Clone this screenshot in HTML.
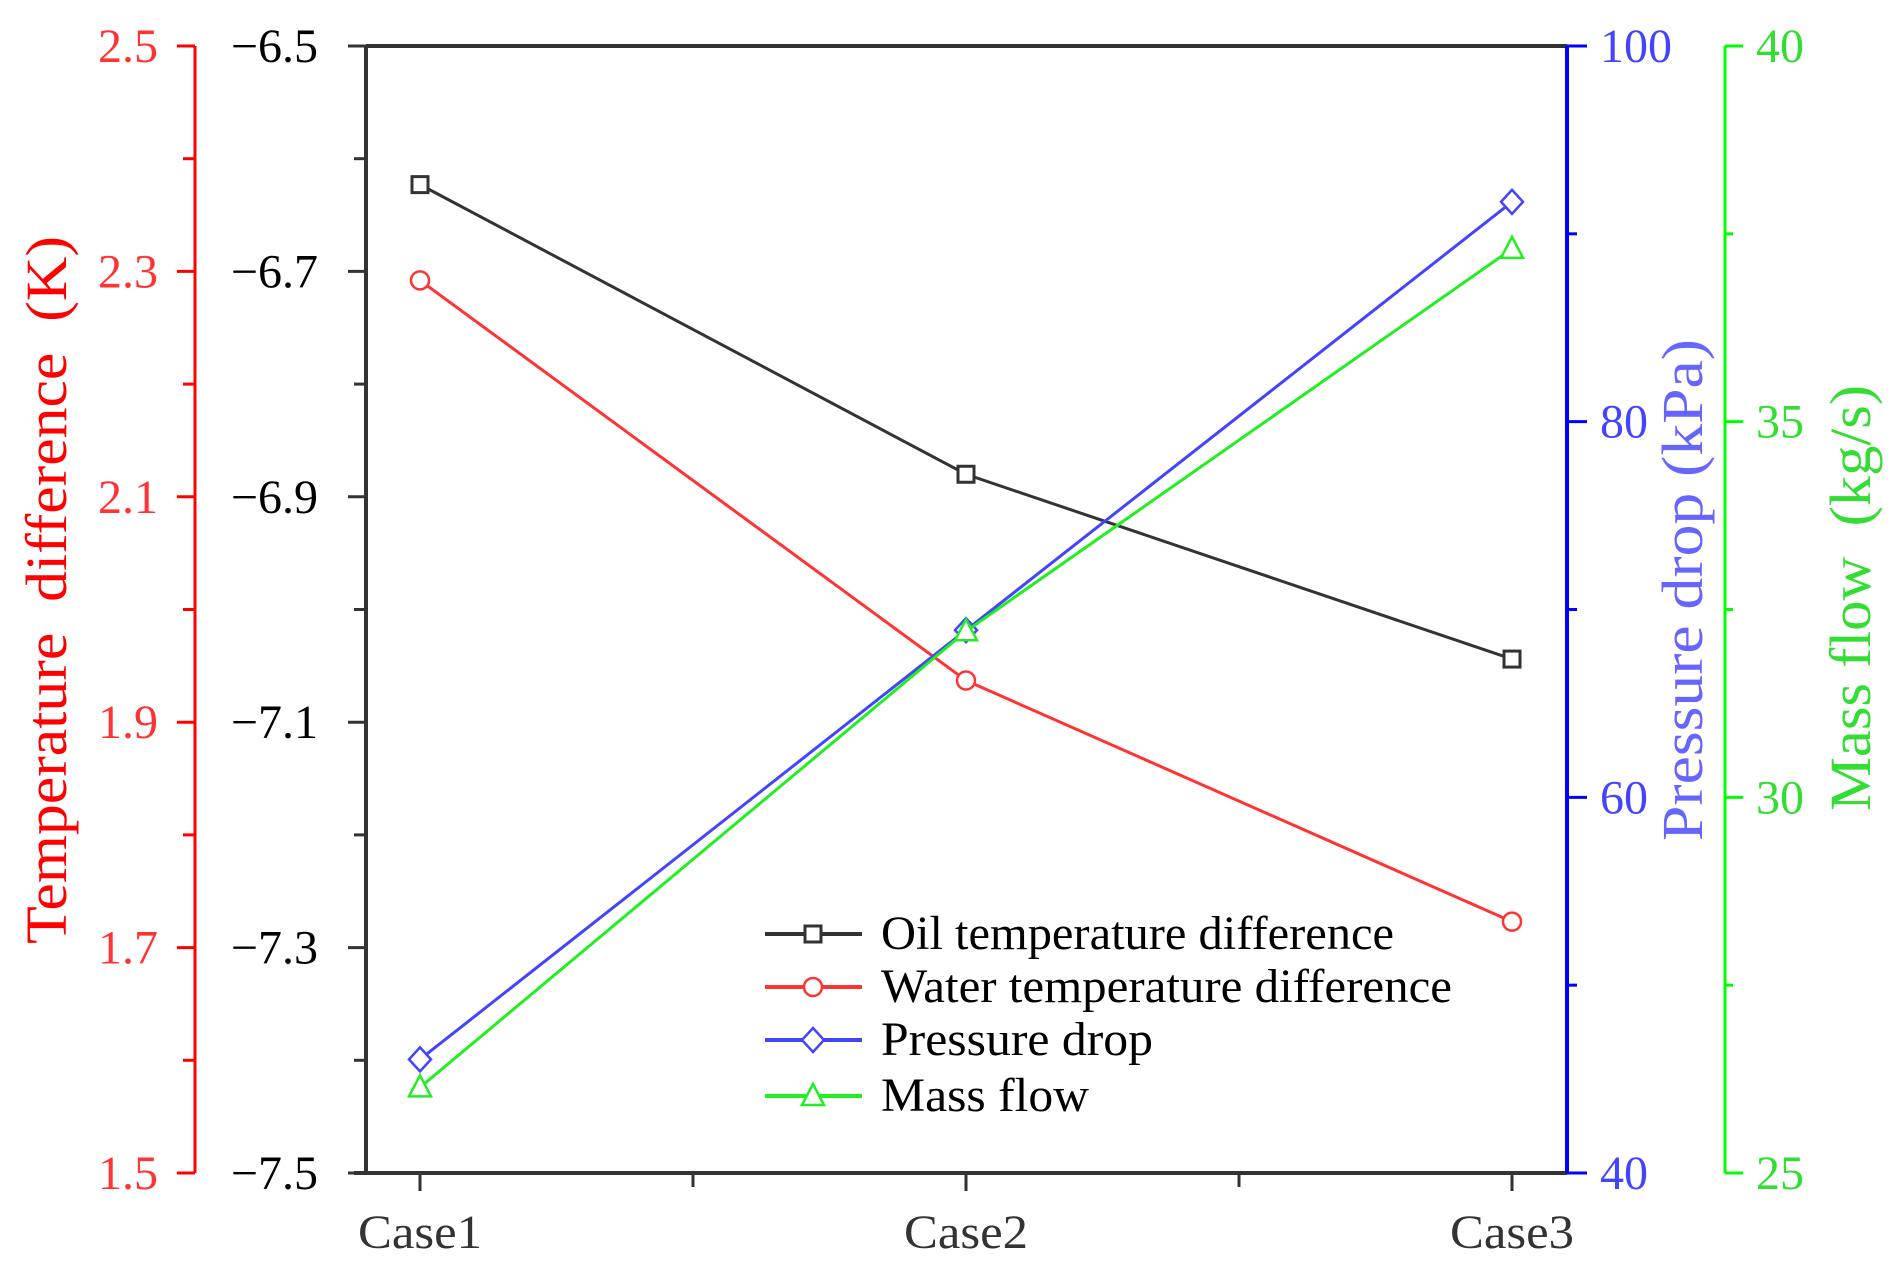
<!DOCTYPE html>
<html><head><meta charset="utf-8"><style>
html,body{margin:0;padding:0;background:#fff;}
svg{display:block;font-family:"Liberation Serif",serif;}
</style></head><body>
<svg id="chart" width="1897" height="1266" viewBox="0 0 1897 1266" xmlns="http://www.w3.org/2000/svg">
<g id="axes"></g>
<g id="series"></g>
<g id="legend"></g>
</svg>
<script>
const categories = ["Case1","Case2","Case3"];
const oilTemp = [-6.623, -6.880, -7.044];
const waterTemp = [2.292, 1.937, 1.723];
const pressureDrop = [46.05, 68.9, 91.7];
const massFlow = [26.14, 32.21, 37.30];
const blackTicks = ["\u22126.5","\u22126.7","\u22126.9","\u22127.1","\u22127.3","\u22127.5"];
const redTicks = ["2.5","2.3","2.1","1.9","1.7","1.5"];
const blueTicks = ["100","80","60","40"];
const greenTicks = ["40","35","30","25"];

const NS="http://www.w3.org/2000/svg";
const L=366, R=1567, T=46, B=1173;
function mk(tag, parent, attrs){const e=document.createElementNS(NS,tag);for(const k in attrs)e.setAttribute(k,attrs[k]);parent.appendChild(e);return e;}
function yScale(min,max){return v=>B-(v-min)/(max-min)*(B-T);}
const xS = i => 420 + i*546;
const yOil=yScale(-7.5,-6.5), yWater=yScale(1.5,2.5), yP=yScale(40,100), yM=yScale(25,40);
const ax=document.getElementById('axes'), se=document.getElementById('series'), lg=document.getElementById('legend');

let e;
e=mk('line',ax,{x1:L,y1:T,x2:R,y2:T,stroke:'#333','stroke-width':4});

e=mk('line',ax,{x1:L,y1:T,x2:L,y2:B,stroke:'#333','stroke-width':4});

e=mk('line',ax,{x1:L-12,y1:B,x2:R,y2:B,stroke:'#333','stroke-width':4});

for(let i=0;i<categories.length;i++){
  mk('line',ax,{x1:xS(i),y1:B,x2:xS(i),y2:B+18,stroke:'#333','stroke-width':3});
  if(i<categories.length-1) mk('line',ax,{x1:xS(i+0.5),y1:B,x2:xS(i+0.5),y2:B+14,stroke:'#333','stroke-width':3});
  e=mk('text',ax,{x:xS(i),y:1248,'text-anchor':'middle','font-size':48,fill:'#333',textLength:124,lengthAdjust:'spacingAndGlyphs'});
  e.textContent=categories[i];
  
}
for(let i=0;i<blackTicks.length;i++){
  const v=-6.5-0.2*i, y=yOil(v);
  mk('line',ax,{x1:L-18,y1:y,x2:L,y2:y,stroke:'#333','stroke-width':3});
  if(i<blackTicks.length-1){const ym=yOil(v-0.1);mk('line',ax,{x1:L-12,y1:ym,x2:L,y2:ym,stroke:'#333','stroke-width':3});}
  e=mk('text',ax,{x:318,y:y+16,'text-anchor':'end','font-size':48,fill:'#000'});
  e.textContent=blackTicks[i];
  
}
const RX=195;
e=mk('line',ax,{x1:RX,y1:T,x2:RX,y2:B,stroke:'#f00','stroke-width':3});

for(let i=0;i<redTicks.length;i++){
  const v=2.5-0.2*i, y=yWater(v);
  mk('line',ax,{x1:RX-18,y1:y,x2:RX,y2:y,stroke:'#f00','stroke-width':3});
  if(i<redTicks.length-1){const ym=yWater(v-0.1);mk('line',ax,{x1:RX-12,y1:ym,x2:RX,y2:ym,stroke:'#f00','stroke-width':3});}
  e=mk('text',ax,{x:158,y:y+16,'text-anchor':'end','font-size':48,fill:'#f33'});
  e.textContent=redTicks[i];
  
}
e=mk('text',ax,{x:0,y:0,transform:'translate(66,590) rotate(-90)','text-anchor':'middle','font-size':58,fill:'#f00',textLength:708,lengthAdjust:'spacingAndGlyphs'});
e.textContent='Temperature\u00a0\u00a0difference\u00a0\u00a0(K)';

e=mk('line',ax,{x1:R,y1:T,x2:R,y2:B,stroke:'#00f','stroke-width':4});

for(let i=0;i<blueTicks.length;i++){
  const v=100-20*i, y=yP(v);
  mk('line',ax,{x1:R,y1:y,x2:R+20,y2:y,stroke:'#00f','stroke-width':3});
  if(i<blueTicks.length-1){const ym=yP(v-10);mk('line',ax,{x1:R,y1:ym,x2:R+10,y2:ym,stroke:'#00f','stroke-width':3});}
  e=mk('text',ax,{x:1600,y:y+16,'text-anchor':'start','font-size':48,fill:'#44f'});
  e.textContent=blueTicks[i];
  
}
e=mk('text',ax,{x:0,y:0,transform:'translate(1702,590) rotate(-90)','text-anchor':'middle','font-size':58,fill:'#66f',textLength:502,lengthAdjust:'spacingAndGlyphs'});
e.textContent='Pressure drop (kPa)';

const GX=1725;
e=mk('line',ax,{x1:GX,y1:T,x2:GX,y2:B,stroke:'#0f0','stroke-width':3});

for(let i=0;i<greenTicks.length;i++){
  const v=40-5*i, y=yM(v);
  mk('line',ax,{x1:GX,y1:y,x2:GX+18,y2:y,stroke:'#0f0','stroke-width':3});
  if(i<greenTicks.length-1){const ym=yM(v-2.5);mk('line',ax,{x1:GX,y1:ym,x2:GX+8,y2:ym,stroke:'#0f0','stroke-width':3});}
  e=mk('text',ax,{x:1756,y:y+16,'text-anchor':'start','font-size':48,fill:'#3d3'});
  e.textContent=greenTicks[i];
  
}
e=mk('text',ax,{x:0,y:0,transform:'translate(1870,598) rotate(-90)','text-anchor':'middle','font-size':58,fill:'#3d3',textLength:426,lengthAdjust:'spacingAndGlyphs'});
e.textContent='Mass flow\u00a0\u00a0(kg/s)';


function marker(p,type,x,y,color){
  if(type==='sq') return mk('rect',p,{x:x-8,y:y-8,width:16,height:16,fill:'#fff',stroke:color,'stroke-width':3});
  if(type==='ci') return mk('circle',p,{cx:x,cy:y,r:9,fill:'#fff',stroke:color,'stroke-width':2.5});
  if(type==='di') return mk('polygon',p,{points:`${x},${y-12} ${x+11},${y} ${x},${y+12} ${x-11},${y}`,fill:'#fff',stroke:color,'stroke-width':2.5});
  return mk('polygon',p,{points:`${x},${y-12} ${x+11},${y+9} ${x-11},${y+9}`,fill:'#fff',stroke:color,'stroke-width':2.5});
}
const defs=[
  {name:'oil-temperature',vals:oilTemp,ys:yOil,color:'#333',m:'sq',label:'Oil temperature difference',w:513},
  {name:'water-temperature',vals:waterTemp,ys:yWater,color:'#f33',m:'ci',label:'Water temperature difference',w:571},
  {name:'pressure-drop',vals:pressureDrop,ys:yP,color:'#44f',m:'di',label:'Pressure drop',w:272},
  {name:'mass-flow',vals:massFlow,ys:yM,color:'#2e2',m:'tr',label:'Mass flow',w:208}
];
defs.forEach((d,k)=>{
  const g=mk('g',se,{});
  
  
  const pts=d.vals.map((v,i)=>xS(i)+','+d.ys(v)).join(' ');
  e=mk('polyline',g,{points:pts,fill:'none',stroke:d.color,'stroke-width':3});
  
  d.vals.forEach((v,i)=>{
    e=marker(g,d.m,xS(i),d.ys(v),d.color);
    
  });
  const ly=934+53*k+(k===3?3:0);
  const lgi=mk('g',lg,{});
  
  
  mk('line',lgi,{x1:765,y1:ly,x2:862,y2:ly,stroke:d.color,'stroke-width':4});
  marker(lgi,d.m,813,ly,d.color);
  e=mk('text',lgi,{x:881,y:ly+15,'font-size':48,fill:'#000',textLength:d.w,lengthAdjust:'spacingAndGlyphs'});
  e.textContent=d.label;
  
});
</script>
</body></html>
